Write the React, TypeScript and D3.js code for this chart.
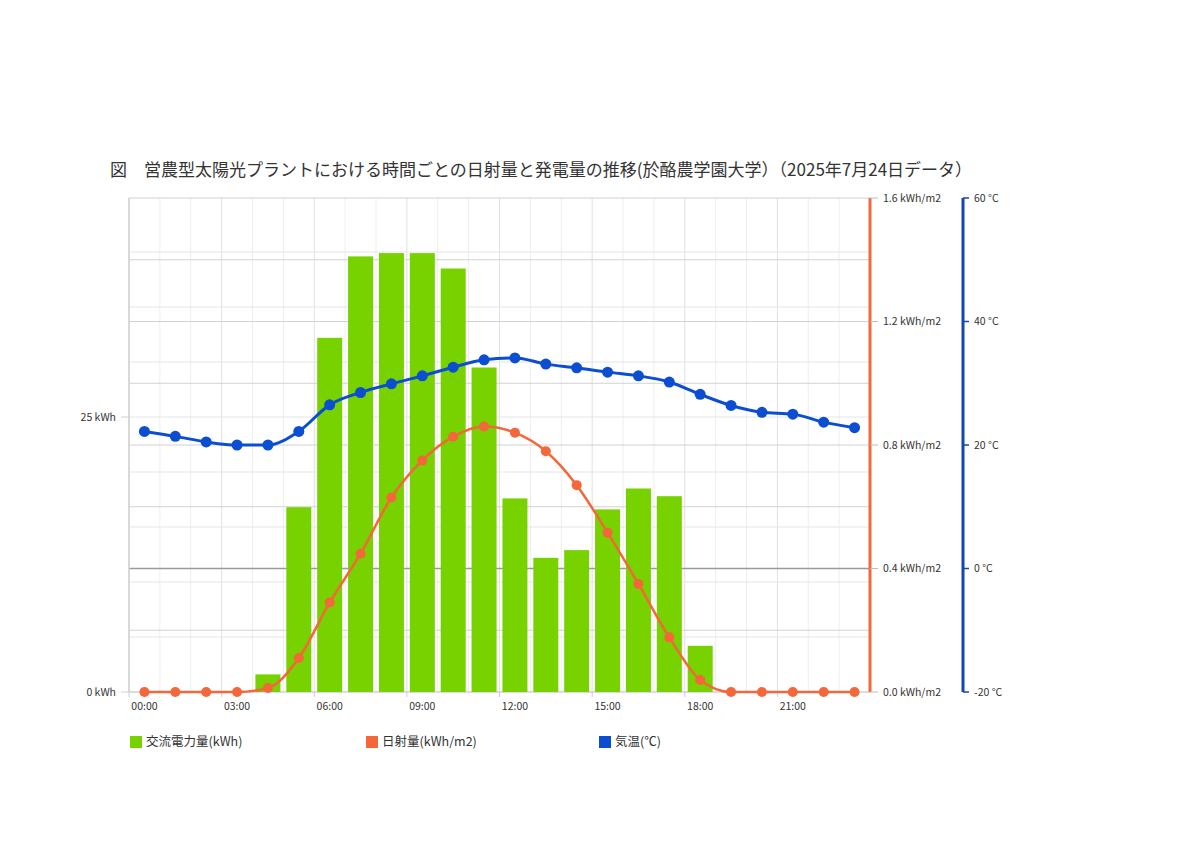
import * as d3 from "d3"

// 時刻（1時間ごと）
const hours = [
  "00:00", "01:00", "02:00", "03:00", "04:00", "05:00", "06:00", "07:00",
  "08:00", "09:00", "10:00", "11:00", "12:00", "13:00", "14:00", "15:00",
  "16:00", "17:00", "18:00", "19:00", "20:00", "21:00", "22:00", "23:00",
]
// 交流電力量 (kWh)
const acPower = [
  0, 0, 0, 0, 1.6, 16.8, 32.2, 39.6, 39.9, 39.9, 38.5, 29.5,
  17.6, 12.2, 12.9, 16.6, 18.5, 17.8, 4.2, 0, 0, 0, 0, 0,
]
// 日射量 (kWh/m2)
const irradiance = [
  0, 0, 0, 0, 0.013, 0.11, 0.29, 0.448, 0.63, 0.75, 0.827, 0.86,
  0.84, 0.78, 0.67, 0.516, 0.35, 0.177, 0.039, 0, 0, 0, 0, 0,
]
// 気温 (°C)
const temperature = [
  22.2, 21.4, 20.5, 20.0, 20.0, 22.2, 26.5, 28.5, 29.9, 31.2, 32.6, 33.8,
  34.1, 33.1, 32.5, 31.8, 31.2, 30.2, 28.2, 26.4, 25.3, 25.0, 23.7, 22.8,
]

const xTickLabels = ["00:00", "03:00", "06:00", "09:00", "12:00", "15:00", "18:00", "21:00"]
const kwhTicks = [0, 25]
const kwhGrid = [5, 10, 15, 20, 25, 30, 35, 40]
const irrTicks = [0, 0.4, 0.8, 1.2, 1.6]
const irrGrid = [0.2, 0.4, 0.6, 0.8, 1.0, 1.2, 1.4, 1.6]
const tempTicks = [-20, 0, 20, 40, 60]

const title = "図　営農型太陽光プラントにおける時間ごとの日射量と発電量の推移(於酪農学園大学）（2025年7月24日データ）"
const legendItems = [
  { label: "交流電力量(kWh)", color: "#77d200" },
  { label: "日射量(kWh/m2)", color: "#f4673a" },
  { label: "気温(℃)", color: "#0b4ed2" },
]

const W = 1200
const H = 848
const left = 129
const right = 870
const top = 198
const bottom = 692
const FONT = "'Noto Sans CJK JP', 'Noto Sans', sans-serif"

const GREEN = "#77d200"
const ORANGE = "#f4673a"
const BLUE = "#0b4ed2"
const BLUE_AXIS = "#1446b4"

export default function App() {
  const x = d3.scaleBand<string>().domain(hours).range([left, right])
  const bw = x.bandwidth()
  const cx = (h: string) => (x(h) ?? 0) + bw / 2
  const barW = bw * 0.81

  const yKwh = d3.scaleLinear().domain([0, 45]).range([bottom, top - 1])
  const yIrr = d3.scaleLinear().domain([0, 1.6]).range([bottom, top])
  const yTemp = d3.scaleLinear().domain([-20, 60]).range([bottom, top])

  const irrLine = d3
    .line<number>()
    .x((_, i) => cx(hours[i]))
    .y((d) => yIrr(d))
    .curve(d3.curveMonotoneX)
  const tempLine = d3
    .line<number>()
    .x((_, i) => cx(hours[i]))
    .y((d) => yTemp(d))
    .curve(d3.curveMonotoneX)

  const tempAxisX = 963

  return (
    <svg
      width={W}
      height={H}
      style={{ position: "absolute", left: 0, top: 0, background: "#fff" }}
      fontFamily={FONT}
    >
      <rect width={W} height={H} fill="#fff" />
      <text x={110} y={176} fontSize={17} fill="#333" fontWeight={400}>
        {title}
      </text>

      {/* vertical grid */}
      {hours.map((h, i) => (
        <line
          key={h}
          x1={x(h)}
          x2={x(h)}
          y1={top}
          y2={bottom}
          stroke={i % 3 === 0 ? "#e0e0e0" : "#eeeeee"}
          strokeWidth={1}
        />
      ))}

      {/* horizontal grid: kWh */}
      {kwhGrid.map((v) => (
        <line key={"k" + v} x1={left} x2={right} y1={yKwh(v)} y2={yKwh(v)} stroke="#e6e6e6" strokeWidth={1.2} />
      ))}
      {/* horizontal grid: kWh/m2 */}
      {irrGrid.map((v) => (
        <line key={"i" + v} x1={left} x2={right} y1={yIrr(v)} y2={yIrr(v)} stroke="#d2d2d2" strokeWidth={1.2} />
      ))}
      {/* temperature zero line */}
      <line x1={left} x2={right} y1={yTemp(0)} y2={yTemp(0)} stroke="#9a9a9a" strokeWidth={1.3} />

      {/* left axis */}
      <line x1={left} x2={left} y1={top} y2={bottom} stroke="#d0d0d0" strokeWidth={1.5} />
      {kwhTicks.map((v) => (
        <g key={"kt" + v}>
          <line x1={left - 8} x2={left} y1={yKwh(v)} y2={yKwh(v)} stroke="#d0d0d0" />
          <text x={left - 13} y={yKwh(v)} dy="0.35em" textAnchor="end" fontSize={10.5} fill="#333">
            {v} kWh
          </text>
        </g>
      ))}

      {/* bottom axis */}
      <line x1={left} x2={right} y1={bottom} y2={bottom} stroke="#d0d0d0" strokeWidth={1.5} />
      {hours.map((h, i) =>
        i % 3 === 0 ? (
          <line key={"xt" + h} x1={x(h)} x2={x(h)} y1={bottom} y2={bottom + 5} stroke="#d0d0d0" />
        ) : null,
      )}
      {xTickLabels.map((h) => (
        <text key={"xl" + h} x={cx(h)} y={710} textAnchor="middle" fontSize={10.5} fill="#333">
          {h}
        </text>
      ))}

      {/* bars */}
      {acPower.map((v, i) =>
        v > 0 ? (
          <rect
            key={"b" + i}
            x={cx(hours[i]) - barW / 2}
            y={yKwh(v)}
            width={barW}
            height={yKwh(0) - yKwh(v)}
            fill={GREEN}
          />
        ) : null,
      )}

      {/* temperature line */}
      <path d={tempLine(temperature) ?? ""} fill="none" stroke={BLUE} strokeWidth={3} />
      {temperature.map((v, i) => (
        <circle key={"t" + i} cx={cx(hours[i])} cy={yTemp(v)} r={5.5} fill={BLUE} />
      ))}

      {/* irradiance line */}
      <path d={irrLine(irradiance) ?? ""} fill="none" stroke={ORANGE} strokeWidth={2.5} />
      {irradiance.map((v, i) => (
        <circle key={"r" + i} cx={cx(hours[i])} cy={yIrr(v)} r={5} fill={ORANGE} />
      ))}

      {/* right axis: kWh/m2 */}
      <line x1={right} x2={right} y1={top} y2={bottom} stroke={ORANGE} strokeWidth={3} />
      {irrTicks.map((v) => (
        <g key={"it" + v}>
          <line x1={right} x2={right + 8} y1={yIrr(v)} y2={yIrr(v)} stroke="#bbb" />
          <text x={right + 13} y={yIrr(v)} dy="0.35em" fontSize={10.5} fill="#333">
            {d3.format(".1f")(v)} kWh/m2
          </text>
        </g>
      ))}

      {/* right axis: temperature */}
      <line x1={tempAxisX} x2={tempAxisX} y1={top} y2={bottom} stroke={BLUE_AXIS} strokeWidth={3} />
      {tempTicks.map((v) => (
        <g key={"tt" + v}>
          <line x1={tempAxisX} x2={tempAxisX + 6} y1={yTemp(v)} y2={yTemp(v)} stroke={BLUE_AXIS} strokeWidth={1.5} />
          <text x={tempAxisX + 11} y={yTemp(v)} dy="0.35em" fontSize={10.5} fill="#333">
            {v} °C
          </text>
        </g>
      ))}

      {/* legend */}
      {legendItems.map((d, i) => {
        const lx = [130, 366, 599][i]
        return (
          <g key={d.label} transform={`translate(${lx},742)`}>
            <rect x={0} y={-6} width={12} height={12} fill={d.color} />
            <text x={16} y={0} dy="0.35em" fontSize={12.5} fill="#333">
              {d.label}
            </text>
          </g>
        )
      })}
    </svg>
  )
}
